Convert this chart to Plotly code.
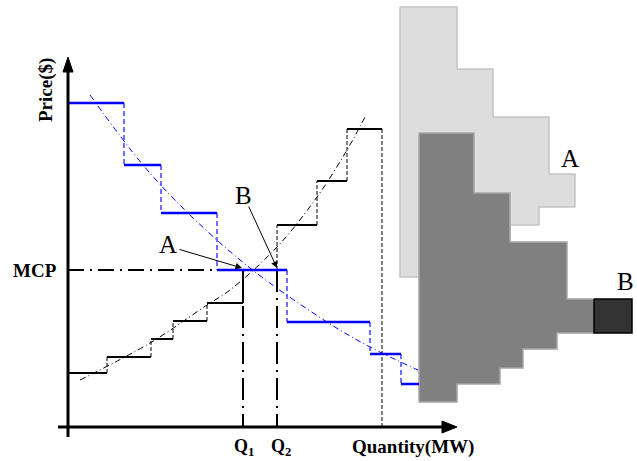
import plotly.graph_objects as go

# ---- data (quantity units along x, price units along y) ----
demand_q = [0, 56, 93, 149, 219, 302, 333, 351]
demand_p = [324, 262, 214, 157, 105, 73, 43]
supply_q = [0, 39, 83, 105, 139, 175, 209, 249, 279, 314]
supply_p = [54, 70, 88, 106, 124, 157, 202, 246, 298]
demand_fit_q = [22, 75, 120, 182, 259, 302, 350]
demand_fit_p = [332, 262, 214, 159, 105, 80, 57]
supply_fit_q = [12, 82, 139, 162, 209, 249, 279, 297]
supply_fit_p = [47, 84, 122, 137, 180, 230, 277, 310]
MCP = 157
Q1 = 175
Q2 = 209
Q_END = 314
# bid regions (outlines)
regionA_q = [332, 389, 389, 425, 425, 481, 481, 507, 507, 471, 471, 442, 442, 332, 332]
regionA_p = [420, 420, 358, 358, 310, 310, 253, 253, 220, 220, 202, 202, 150, 150, 420]
regionB_q = [351, 406, 406, 442, 442, 499, 499, 526, 526, 489, 489, 455, 455, 432, 432, 389, 389, 351, 351]
regionB_p = [294, 294, 234, 234, 185, 185, 128, 128, 94, 94, 78, 78, 59, 59, 43, 43, 25, 25, 294]
blockB_q = [526, 564, 564, 526, 526]
blockB_p = [128, 128, 94, 94, 128]

fig = go.Figure()

def poly(q, p, fill, edge):
    fig.add_trace(go.Scatter(x=q, y=p, mode="lines", fill="toself", fillcolor=fill,
                             line=dict(color=edge, width=1.5), hoverinfo="skip"))

poly(regionA_q, regionA_p, "#dddddd", "#c4c4c4")
poly(regionB_q, regionB_p, "#808080", "#a6a6a6")
poly(blockB_q, blockB_p, "#333333", "#000000")

def steps(q, p):
    hx, hy, vx, vy = [], [], [], []
    for i in range(len(p)):
        hx += [q[i], q[i + 1], None]
        hy += [p[i], p[i], None]
        if i < len(p) - 1:
            vx += [q[i + 1], q[i + 1], None]
            vy += [p[i], p[i + 1], None]
    return hx, hy, vx, vy

dhx, dhy, dvx, dvy = steps(demand_q, demand_p)
shx, shy, svx, svy = steps(supply_q, supply_p)

# fitted curves
fig.add_trace(go.Scatter(x=demand_fit_q, y=demand_fit_p, mode="lines",
                         line=dict(color="#0000ff", width=1, dash="6px,3px,1px,3px", shape="spline")))
fig.add_trace(go.Scatter(x=supply_fit_q, y=supply_fit_p, mode="lines",
                         line=dict(color="#000000", width=1, dash="6px,3px,1px,3px", shape="spline")))
# risers
fig.add_trace(go.Scatter(x=dvx, y=dvy, mode="lines",
                         line=dict(color="#4040ff", width=1.5, dash="5px,3px")))
fig.add_trace(go.Scatter(x=svx, y=svy, mode="lines",
                         line=dict(color="#000000", width=1, dash="4px,2px")))
fig.add_trace(go.Scatter(x=[Q_END, Q_END], y=[supply_p[-1], 0], mode="lines",
                         line=dict(color="#000000", width=1, dash="4px,2px")))
# MCP and Q lines
fig.add_trace(go.Scatter(x=[0, demand_q[3]], y=[MCP, MCP], mode="lines",
                         line=dict(color="#000000", width=2, dash="16px,6px,2px,6px")))
fig.add_trace(go.Scatter(x=[Q1, Q1, None, Q2, Q2], y=[MCP, 0, None, MCP, 0], mode="lines",
                         line=dict(color="#000000", width=2, dash="22px,6px,2px,6px")))
fig.add_trace(go.Scatter(x=[Q1, Q1], y=[supply_p[4], MCP], mode="lines",
                         line=dict(color="#000000", width=2)))
# steps
fig.add_trace(go.Scatter(x=shx, y=shy, mode="lines", line=dict(color="#000000", width=2)))
fig.add_trace(go.Scatter(x=dhx, y=dhy, mode="lines", line=dict(color="#0000ff", width=2.5)))

# axes (drawn as shapes)
shapes = [
    dict(type="line", x0=-10, y0=0, x1=378, y1=0, line=dict(color="black", width=3)),
    dict(type="line", x0=0, y0=-10, x1=0, y1=360, line=dict(color="black", width=3)),
    dict(type="path", path="M 374,-6 L 389,0 L 374,6 Z", fillcolor="black", line=dict(color="black", width=1)),
    dict(type="path", path="M -5,355 L 0,370 L 5,355 Z", fillcolor="black", line=dict(color="black", width=1)),
    dict(type="line", x0=Q1, y0=0, x1=Q1, y1=7, line=dict(color="black", width=1.5)),
    dict(type="line", x0=Q2, y0=0, x1=Q2, y1=7, line=dict(color="black", width=1.5)),
]

serif = "Liberation Serif, Times New Roman, serif"
ann = [
    dict(x=-22, y=337, text="<b>Price($)</b>", textangle=-90, font=dict(size=19, family=serif, color="black")),
    dict(x=-33, y=MCP, text="<b>MCP</b>", font=dict(size=19, family=serif, color="black")),
    dict(x=Q1 + 1, y=-20, text="<b>Q<sub>1</sub></b>", font=dict(size=18, family=serif, color="black")),
    dict(x=Q2 + 4, y=-20, text="<b>Q<sub>2</sub></b>", font=dict(size=18, family=serif, color="black")),
    dict(x=345, y=-20, text="<b>Quantity(MW)</b>", font=dict(size=19, family=serif, color="black")),
    dict(x=100, y=183, text="A", font=dict(size=25, family=serif, color="black")),
    dict(x=175, y=232, text="B", font=dict(size=25, family=serif, color="black")),
    dict(x=502, y=269, text="A", font=dict(size=25, family=serif, color="black")),
    dict(x=557, y=146, text="B", font=dict(size=25, family=serif, color="black")),
]
for a in ann:
    a.update(xref="x", yref="y", showarrow=False, xanchor="center", yanchor="middle")
arrows = [
    dict(x=Q1 - 1, y=MCP + 2, ax=110, ay=178),
    dict(x=Q2, y=MCP + 2, ax=180, ay=222),
]
for a in arrows:
    a.update(xref="x", yref="y", axref="x", ayref="y", text="", showarrow=True,
             arrowhead=2, arrowsize=1.3, arrowwidth=1, arrowcolor="black")

fig.update_layout(
    width=637, height=461, autosize=False,
    margin=dict(l=0, r=0, t=0, b=0),
    paper_bgcolor="white", plot_bgcolor="white",
    showlegend=False,
    xaxis=dict(range=[-68, 569], visible=False, fixedrange=True),
    yaxis=dict(range=[-34, 427], visible=False, fixedrange=True),
    shapes=shapes,
    annotations=ann + arrows,
)
fig.write_html("out.html", config={"displayModeBar": False},
               post_script="document.body.style.margin='0';document.body.style.overflow='hidden';")
